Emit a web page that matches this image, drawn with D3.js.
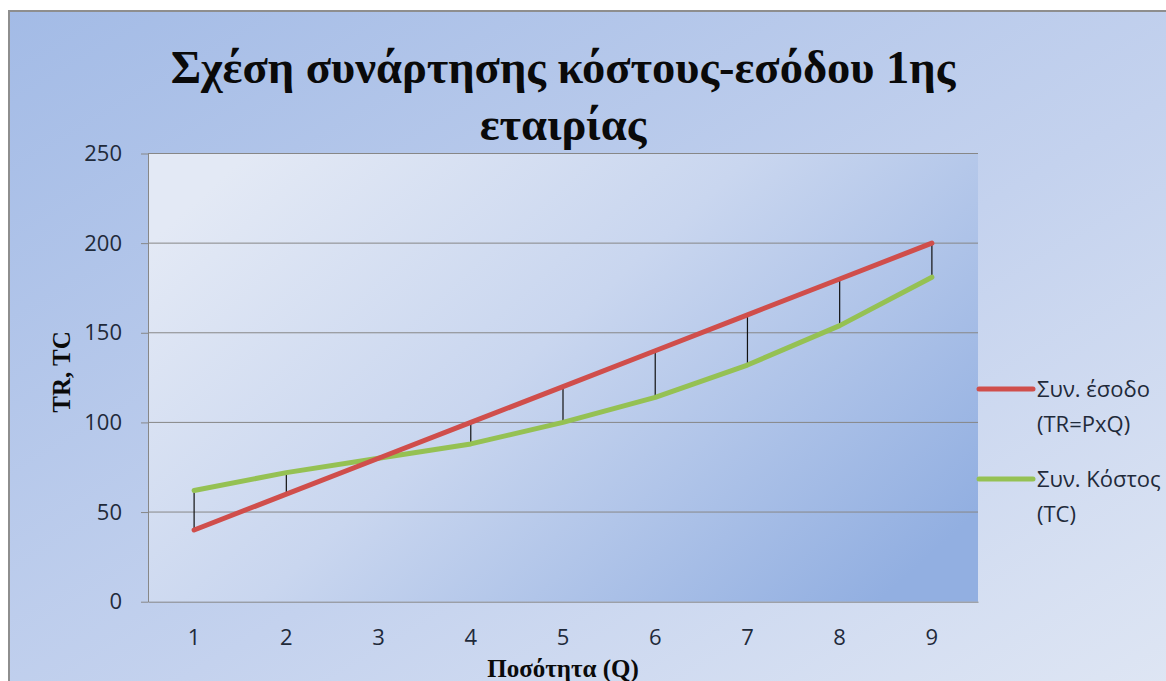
<!DOCTYPE html>
<html>
<head>
<meta charset="utf-8">
<script src="https://cdn.jsdelivr.net/npm/d3@7"></script>
<style>
  html, body { margin: 0; padding: 0; background: #ffffff; }
  svg { display: block; }
</style>
</head>
<body>
<svg id="chart" width="1166" height="681"></svg>
<script>
// Quantity produced (Q)
const quantities = [1, 2, 3, 4, 5, 6, 7, 8, 9];
// Total revenue TR = P x Q
const revenue = [40, 60, 80, 100, 120, 140, 160, 180, 200];
// Total cost TC
const cost = [62, 72, 80, 88, 100, 114, 132, 154, 181];
// Value axis ticks
const yTicks = [0, 50, 100, 150, 200, 250];

const titleLines = ["Σχέση συνάρτησης κόστους-εσόδου 1ης", "εταιρίας"];
const xTitle = "Ποσότητα (Q)";
const yTitle = "TR, TC";
const seriesNames = [["Συν. έσοδο", "(TR=PxQ)"], ["Συν. Κόστος", "(TC)"]];

const W = 1166, H = 681;
const plot = { left: 148, right: 978, top: 153.5, bottom: 601.7 };
const redColor = "#d04e4b", greenColor = "#95c153";
const serif = "'Liberation Serif', 'Times New Roman', serif";
const sans = "'Open Sans', 'Noto Sans', sans-serif";

const svg = d3.select("#chart");
const defs = svg.append("defs");

// chart area background
const bgGrad = defs.append("linearGradient").attr("id", "bgGrad")
  .attr("x1", 0).attr("y1", 0).attr("x2", 1).attr("y2", 1);
bgGrad.append("stop").attr("offset", "0%").attr("stop-color", "#a3bbe6");
bgGrad.append("stop").attr("offset", "55%").attr("stop-color", "#c4d2ee");
bgGrad.append("stop").attr("offset", "100%").attr("stop-color", "#e0e7f4");

// plot area background
const plotGrad = defs.append("linearGradient").attr("id", "plotGrad")
  .attr("x1", 0).attr("y1", 0.2).attr("x2", 1).attr("y2", 0.8);
plotGrad.append("stop").attr("offset", "0%").attr("stop-color", "#e3e9f5");
plotGrad.append("stop").attr("offset", "45%").attr("stop-color", "#c9d6ef");
plotGrad.append("stop").attr("offset", "100%").attr("stop-color", "#92afe1");

svg.append("rect").attr("x", 9).attr("y", 11).attr("width", W + 20).attr("height", H + 20)
  .attr("fill", "url(#bgGrad)").attr("stroke", "#8e8e8e").attr("stroke-width", 2);

svg.append("rect").attr("x", plot.left).attr("y", plot.top)
  .attr("width", plot.right - plot.left).attr("height", plot.bottom - plot.top)
  .attr("fill", "url(#plotGrad)");

const x = d3.scaleBand().domain(quantities).range([plot.left, plot.right]);
const y = d3.scaleLinear().domain([0, 250]).range([plot.bottom, plot.top]);
const cx = q => x(q) + x.bandwidth() / 2;

// horizontal gridlines
svg.append("g").selectAll("line").data(yTicks.filter(t => t > 0)).join("line")
  .attr("x1", plot.left).attr("x2", plot.right)
  .attr("y1", d => y(d)).attr("y2", d => y(d))
  .attr("stroke", "#878787").attr("stroke-width", 1);

// value axis
const yAxis = svg.append("g").attr("transform", `translate(${plot.left},0)`)
  .call(d3.axisLeft(y).tickValues(yTicks).tickSize(7).tickPadding(19).tickSizeOuter(0));
yAxis.select(".domain").attr("stroke", "#878787");
yAxis.selectAll(".tick line").attr("stroke", "#878787");
yAxis.selectAll(".tick text").attr("font-family", sans).attr("font-size", 22)
  .attr("fill", "#1f2a3a");

// category axis
const xAxis = svg.append("g").attr("transform", `translate(0,${plot.bottom})`)
  .call(d3.axisBottom(x).tickSize(0).tickPadding(28).tickSizeOuter(0));
xAxis.select(".domain").attr("stroke", "#878787");
xAxis.selectAll(".tick text").attr("font-family", sans).attr("font-size", 22)
  .attr("fill", "#1f2a3a");

// high-low lines between revenue and cost
svg.append("g").selectAll("line").data(quantities).join("line")
  .attr("x1", (q) => cx(q)).attr("x2", (q) => cx(q))
  .attr("y1", (q, i) => y(revenue[i])).attr("y2", (q, i) => y(cost[i]))
  .attr("stroke", "#111").attr("stroke-width", 1.2);

const line = d3.line().x((d) => cx(d.q)).y((d) => y(d.v));
const series = [
  { values: revenue, color: redColor },
  { values: cost, color: greenColor }
];
// cost first, revenue on top
[series[1], series[0]].forEach(s => {
  svg.append("path")
    .datum(quantities.map((q, i) => ({ q, v: s.values[i] })))
    .attr("d", line).attr("fill", "none").attr("stroke", s.color)
    .attr("stroke-width", 5).attr("stroke-linejoin", "round").attr("stroke-linecap", "round");
});

// title
const titleX = (plot.left + plot.right) / 2;
const t1 = svg.append("text").attr("x", titleX).attr("y", 83)
  .attr("text-anchor", "middle").attr("font-family", serif).attr("font-weight", "bold")
  .attr("font-size", 50).attr("fill", "#0a0a0a").text(titleLines[0]);
const fit = 50 * 785 / t1.node().getComputedTextLength();
t1.attr("font-size", fit);
svg.append("text").attr("x", titleX).attr("y", 140)
  .attr("text-anchor", "middle").attr("font-family", serif).attr("font-weight", "bold")
  .attr("font-size", fit).attr("fill", "#0a0a0a").text(titleLines[1]);

// axis titles
svg.append("text").attr("x", titleX).attr("y", 677)
  .attr("text-anchor", "middle").attr("font-family", serif).attr("font-weight", "bold")
  .attr("font-size", 25).attr("fill", "#0a0a0a").text(xTitle);
svg.append("text").attr("transform", "translate(70,372) rotate(-90)")
  .attr("text-anchor", "middle").attr("font-family", serif).attr("font-weight", "bold")
  .attr("font-size", 25).attr("fill", "#0a0a0a").text(yTitle);

// legend
const legendRows = [389, 479];
series.forEach((s, i) => {
  const ly = legendRows[i];
  svg.append("line").attr("x1", 979).attr("x2", 1033).attr("y1", ly).attr("y2", ly)
    .attr("stroke", s.color).attr("stroke-width", 5).attr("stroke-linecap", "round");
  const txt = svg.append("text").attr("x", 1037).attr("y", ly + 8)
    .attr("font-family", sans).attr("font-size", 22).attr("fill", "#1f2a3a");
  seriesNames[i].forEach((str, k) => {
    txt.append("tspan").attr("x", 1037).attr("dy", k === 0 ? 0 : 35).text(str);
  });
});
</script>
</body>
</html>
